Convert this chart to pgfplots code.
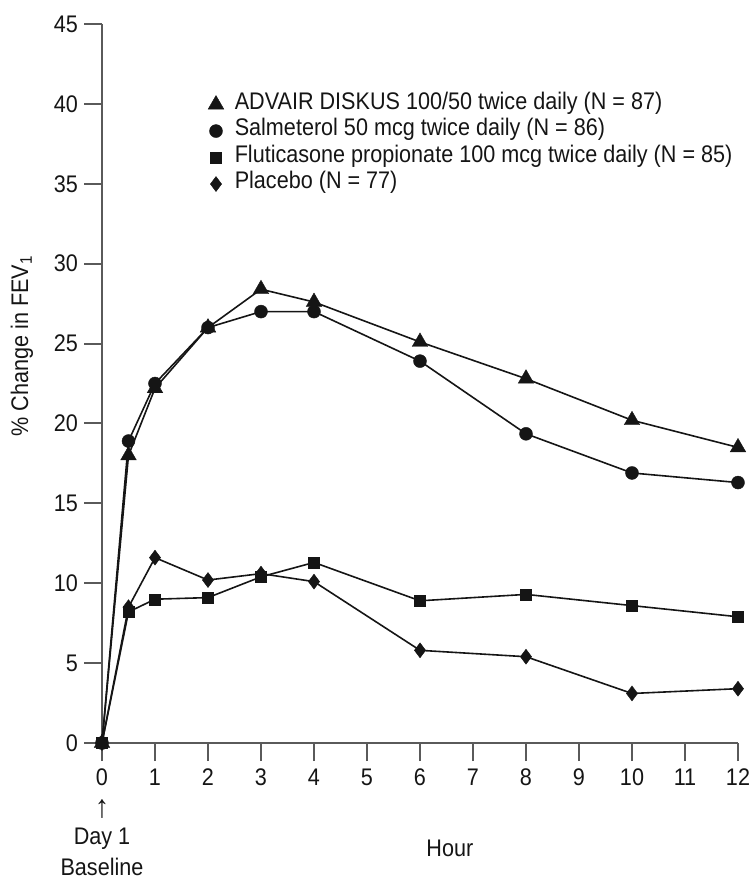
\documentclass[border=0pt]{standalone}
\usepackage{pgfplots}
\pgfplotsset{compat=1.18}
\usepackage{fontspec}
\setmainfont{Liberation Sans}[FakeStretch=0.9]
\definecolor{axgray}{HTML}{5A5A5A}
\definecolor{ink}{HTML}{151515}
\begin{document}
\fontsize{24bp}{26.5bp}\selectfont
\begin{tikzpicture}
\useasboundingbox (-102bp,-141bp) rectangle (652bp,743bp);
\begin{axis}[
  scale only axis, width=636bp, height=719bp,
  xmin=0, xmax=12, ymin=0, ymax=45,
  axis lines=left,
  axis line style={draw=axgray, line width=2.2bp, -},
  xtick={0,1,...,12}, ytick={0,5,...,45},
  tick align=outside, major tick length=18bp,
  tick style={draw=axgray, line width=2bp},
  clip=false,
  /pgf/number format/assume math mode=true,
  tick label style={font=\fontsize{24bp}{26bp}\selectfont, text=ink},
  xticklabel style={inner sep=0pt, yshift=-8bp},
  yticklabel style={inner sep=0pt, xshift=-6bp},
  xlabel={Hour},
  ylabel={\% Change in FEV\textsubscript{1}},
  every axis x label/.style={at={(axis description cs:0.547,-0.146)}, anchor=center, text=ink},
  every axis y label/.style={at={(axis description cs:-0.1258,0.552)}, anchor=center, rotate=90, text=ink},
  every axis plot/.append style={line width=1.6bp, draw=ink},
  legend style={at={(axis cs:2.0,40.8)}, anchor=north west, draw=none, fill=none,
    font=\fontsize{24bp}{26.5bp}\selectfont, text=ink,
    inner sep=0pt, column sep=11bp,
    nodes={inner sep=0pt, text height=18bp, text depth=8.5bp}},
  legend cell align=left,
  legend image code/.code={\draw[#1] plot[only marks] coordinates {(0bp,0bp)};},
]
\addplot[mark=triangle*, mark size=9bp, mark options={fill=ink, draw=ink, line width=0.4bp}] coordinates {
(0,0) (0.5,18.0) (1,22.2) (2,26.0) (3,28.4) (4,27.6) (6,25.1) (8,22.8) (10,20.2) (12,18.5)};
\addlegendentry{ADVAIR DISKUS 100/50 twice daily (N = 87)}
\addplot[mark=*, mark size=6.5bp, mark options={fill=ink, draw=ink, line width=0.4bp}] coordinates {
(0,0) (0.5,18.9) (1,22.5) (2,26.0) (3,27.0) (4,27.0) (6,23.9) (8,19.35) (10,16.9) (12,16.3)};
\addlegendentry{Salmeterol 50 mcg twice daily (N = 86)}
\addplot[mark=square*, mark size=5.5bp, mark options={fill=ink, draw=ink, line width=0.4bp}] coordinates {
(0,0) (0.5,8.2) (1,9.0) (2,9.1) (3,10.4) (4,11.3) (6,8.9) (8,9.3) (10,8.6) (12,7.9)};
\addlegendentry{Fluticasone propionate 100 mcg twice daily (N = 85)}
\addplot[mark=diamond*, mark size=7.5bp, mark options={fill=ink, draw=ink, line width=0.4bp}] coordinates {
(0,0) (0.5,8.5) (1,11.6) (2,10.2) (3,10.6) (4,10.1) (6,5.8) (8,5.4) (10,3.1) (12,3.4)};
\addlegendentry{Placebo (N = 77)}
\node[text=ink, anchor=center, inner sep=0pt] at (axis cs:0,0) [yshift=-66bp] {\fontsize{32bp}{34bp}\selectfont ↑};
\node[text=ink, anchor=center, inner sep=0pt] at (axis cs:0,0) [yshift=-96bp] {Day 1};
\node[text=ink, anchor=center, inner sep=0pt] at (axis cs:0,0) [yshift=-124bp] {Baseline};
\end{axis}
\end{tikzpicture}
\end{document}
